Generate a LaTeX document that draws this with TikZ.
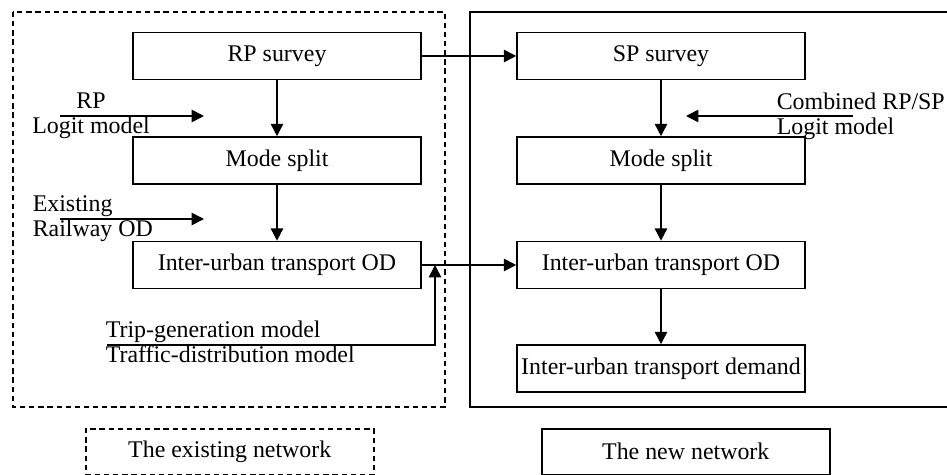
\documentclass[tikz,border=0pt]{standalone}
\usepackage{fontspec}
\setmainfont{Liberation Serif}
\usepackage{tikz}
\usetikzlibrary{arrows.meta, positioning}

\begin{document}
\begin{tikzpicture}[x=0.02cm, y=-0.02cm, line width=0.9pt,
    font=\fontsize{13.6}{14.4}\selectfont,
    stage/.style={draw, rectangle, minimum width=5.76cm, minimum height=0.94cm, inner sep=0pt},
    legendbox/.style={draw, rectangle, minimum width=5.76cm, minimum height=0.92cm, inner sep=0pt, anchor=north west},
    flow/.style={-{Triangle[length=7pt, width=7pt]}},
    note/.style={align=left, inner sep=0pt, anchor=west},
    dashframe/.style={dash pattern=on 3pt off 2.2pt}]
    \clip (0,0) rectangle (947,475);
    % frames of the two networks
    \draw[dashframe] (13,12) rectangle (445,407);
    \draw (470,12) rectangle (960,407);

    % existing network
    \node[stage] (rp) at (277,56) {RP survey};
    \node[stage] (msl) at (277,160.5) {Mode split};
    \node[stage] (odl) at (277,265) {Inter-urban transport OD};

    % new network
    \node[stage] (sp) at (661,56) {SP survey};
    \node[stage] (msr) at (661,160.5) {Mode split};
    \node[stage] (odr) at (661,265) {Inter-urban transport OD};
    \node[stage] (dem) at (661,368.5) {Inter-urban transport demand};

    % side inputs
    \node[align=center, inner sep=0pt] (rplbl) at (91,116) {RP\\Logit model};
    \node[note] (exlbl) at (32,219) {Existing\\Railway OD};
    \node[note] (cblbl) at (776,116) {Combined RP/SP\\Logit model};
    \node[note] (tglbl) at (105,342) {Trip-generation model\\Traffic-distribution model};

    \coordinate (rpin) at (60,116);
    \coordinate (rpout) at (204,116);
    \coordinate (exin) at (60,219);
    \coordinate (exout) at (204,219);
    \coordinate (cbin) at (853,116);
    \coordinate (cbout) at (686,116);
    \coordinate (tgin) at (107,345);
    \coordinate (meet) at (435,265);

    % legend
    \node[legendbox, dashframe] (legold) at (85,428) {The existing network};
    \node[legendbox] (legnew) at (541,428) {The new network};

    % connectors
    \draw[flow] (rp) -- (msl);
    \draw[flow] (msl) -- (odl);
    \draw[flow] (sp) -- (msr);
    \draw[flow] (msr) -- (odr);
    \draw[flow] (odr) -- (dem);
    \draw[flow] (rp) -- (sp);
    \draw[flow] (odl) -- (odr);
    \draw[flow] (rpin) -- (rpout);
    \draw[flow] (exin) -- (exout);
    \draw[flow] (cbin) -- (cbout);
    \draw[flow] (tgin) -| (meet);
\end{tikzpicture}
\end{document}
